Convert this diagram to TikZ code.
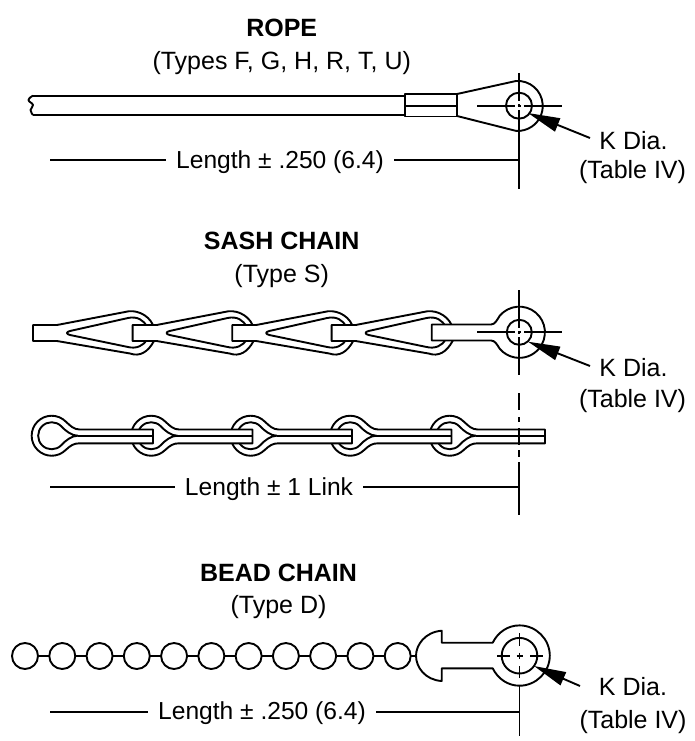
\documentclass[tikz,border=0pt]{standalone}
\usepackage{fontspec}
\setmainfont{Liberation Sans}
\usetikzlibrary{arrows.meta}
\tikzset{
  ln/.style={line width=1.9pt,line join=round},
  part/.style={ln,fill=white},
  lab/.style={font=\fontsize{25pt}{28pt}\selectfont,inner sep=0pt,anchor=base},
  len/.style={font=\fontsize{24.6pt}{28pt}\selectfont,inner sep=10pt,anchor=base},
  ttl/.style={lab,font=\fontsize{25pt}{28pt}\selectfont\bfseries},
  ptr/.style={line width=1.9pt,-{Triangle[length=32pt,width=14pt]}}
}
\begin{document}
\begin{tikzpicture}[x=1pt,y=-1pt]
\useasboundingbox (0,0) rectangle (695,741);
% ---------- ROPE
\node[ttl] (t1) at (281.7,36.7) {ROPE};
\node[lab] (s1) at (281.7,69.5) {(Types F, G, H, R, T, U)};
\draw[ln] plot[smooth,tension=.8] coordinates {(33,95.7) (28.5,100) (33,105) (30.5,110) (33,115)};
\draw[ln] (33,95.7) -- (405,95.7) (33,115) -- (405,115);
\draw[part] (405,94) rectangle (457,116.5);
\draw[ln] (405,105.7) -- (457,105.7);
\draw[ln] (457,94) -- (516,81) arc[start angle=94,delta angle=-188,radius=25pt] -- (457,116);
\draw[ln] (519,105.7) circle[radius=13pt];
\draw[ln] (477,105.7) -- (514.5,105.7) (517.5,105.7) -- (520.5,105.7) (523.5,105.7) -- (562,105.7);
\draw[ln] (519,73) -- (519,101.5) (519,104.2) -- (519,107.2) (519,110) -- (519,189);
\node[len] (lenA) at (280,168) {Length ± .250 (6.4)};
\coordinate (dA1) at (50,160);
\coordinate (dA2) at (519,160);
\draw[ln] (dA1) -- (lenA.west |- dA1) (lenA.east |- dA2) -- (dA2);
\node[lab] (kA) at (633.5,149.5) {K Dia.};
\node[lab] (tA) at (632.5,178) {(Table IV)};
\coordinate (pA) at (590,138);
\coordinate (qA) at (528,113);
\draw[ptr] (pA) -- (qA);
% ---------- SASH CHAIN
\node[ttl] (t2) at (281.7,249) {SASH CHAIN};
\node[lab] (s2) at (281.7,282) {(Type S)};
\foreach \d in {0,99.6,199.2,298.6}{
  \begin{scope}[xshift=\d pt]
  \draw[part] (33,325) -- (57,325) -- (125,312) .. controls (135,309) and (148,314) .. (153,325)
     .. controls (156,330) and (156,336) .. (154,341)
     .. controls (148,352) and (140,357) .. (130,353.5) -- (57,341) -- (33,341) -- cycle;
  \draw[part] (70,331) -- (128,318) .. controls (137,316) and (144,320) .. (147,327) -- (147,339)
     .. controls (144,346) and (136,349) .. (128,347) -- (70,335) .. controls (66,334) and (66,332) .. (70,331) -- cycle;
  \end{scope}
}
\draw[part] (431.7,324.5) -- (491,324.5) .. controls (495,324.5) and (497,320) .. (499.7,315.8)
   arc[start angle=140,delta angle=-280,radius=25.6pt]
   .. controls (497,344.5) and (495,340.5) .. (491,340.5) -- (431.7,340.5) -- cycle;
\draw[ln] (519.3,332.3) circle[radius=12.5pt];
\draw[ln] (477,332.3) -- (515,332.3) (518,332.3) -- (521,332.3) (524,332.3) -- (562,332.3);
\draw[ln] (519.3,290) -- (519.3,328) (519.3,331) -- (519.3,334) (519.3,337) -- (519.3,375);
\node[lab] (kB) at (633.5,376) {K Dia.};
\node[lab] (tB) at (632.5,407) {(Table IV)};
\coordinate (pB) at (590,366);
\coordinate (qB) at (528,341.7);
\draw[ptr] (pB) -- (qB);
% ---------- SASH CHAIN, second view
\foreach \c/\e in {449.7/95.3,350.2/101.3,250.7/101.3,151.2/101.3,51.7/101.3}{
  \begin{scope}[xshift=\c pt]
  \draw[part] (\e,429.5) -- (28,429.5) .. controls (22,429.5) and (19,426) .. (14.1,421.6)
     arc[start angle=45,delta angle=270,radius=20pt]
     .. controls (19,445.4) and (22,443.3) .. (28,443.3) -- (\e,443.3) -- cycle;
  \draw[part] (26,435.7) .. controls (20,435.7) and (14,431) .. (9.5,426.2)
     arc[start angle=45,delta angle=270,radius=13.5pt]
     .. controls (14,440.4) and (20,435.7) .. (26,435.7) -- cycle;
  \draw[ln] (26,435.7) -- (\e,435.7);
  \end{scope}
}
\draw[ln] (519.3,393) -- (519.3,410) (519.3,417) -- (519.3,422) (519.3,428) -- (519.3,445)
   (519.3,450) -- (519.3,457) (519.3,462) -- (519.3,515);
\node[len] (lenB) at (269,495) {Length ± 1 Link};
\coordinate (dB1) at (50,486.7);
\coordinate (dB2) at (519.3,486.7);
\draw[ln] (dB1) -- (lenB.west |- dB1) (lenB.east |- dB2) -- (dB2);
% ---------- BEAD CHAIN
\node[ttl] (t3) at (278.5,581.7) {BEAD CHAIN};
\node[lab] (s3) at (278.5,613) {(Type D)};
\draw[line width=2.2pt] (25,656) -- (416,656);
\foreach \n in {0,...,10}{
  \node[draw,ln,fill=white,circle,minimum size=26pt,inner sep=0pt] (b\n) at ({25+37.27*\n},656) {};
}
\draw[part] (441.7,630.7) .. controls (425,632) and (416,645) .. (416,655.7)
   .. controls (416,667) and (425,680) .. (441.7,681) -- (441.7,668.3) -- (492.7,668.3)
   .. controls (498,679) and (508,685.7) .. (519.5,685.7)
   .. controls (536,685.7) and (549.8,672) .. (549.8,655.7)
   .. controls (549.8,639) and (536,625.4) .. (519.5,625.4)
   .. controls (508,625.4) and (498,632) .. (492.7,642.7) -- (441.7,642.7) -- cycle;
\draw[ln] (519.5,655.7) circle[radius=17.8pt];
\draw[ln] (497,655.7) -- (509.5,655.7) (516.5,655.7) -- (523,655.7) (530,655.7) -- (542.7,655.7);
\draw[ln] (519.5,633) -- (519.5,645.5) (519.5,652.5) -- (519.5,659) (519.5,666) -- (519.5,678);
\draw[ln] (519.5,685.7) -- (519.5,736);
\node[len] (lenC) at (262,719.5) {Length ± .250 (6.4)};
\coordinate (dC1) at (50,711.7);
\coordinate (dC2) at (519.5,711.7);
\draw[ln] (dC1) -- (lenC.west |- dC1) (lenC.east |- dC2) -- (dC2);
\node[lab] (kC) at (633,695) {K Dia.};
\node[lab] (tC) at (633,728) {(Table IV)};
\coordinate (pC) at (580,686);
\coordinate (qC) at (534,666);
\draw[ptr] (pC) -- (qC);
\end{tikzpicture}
\end{document}
